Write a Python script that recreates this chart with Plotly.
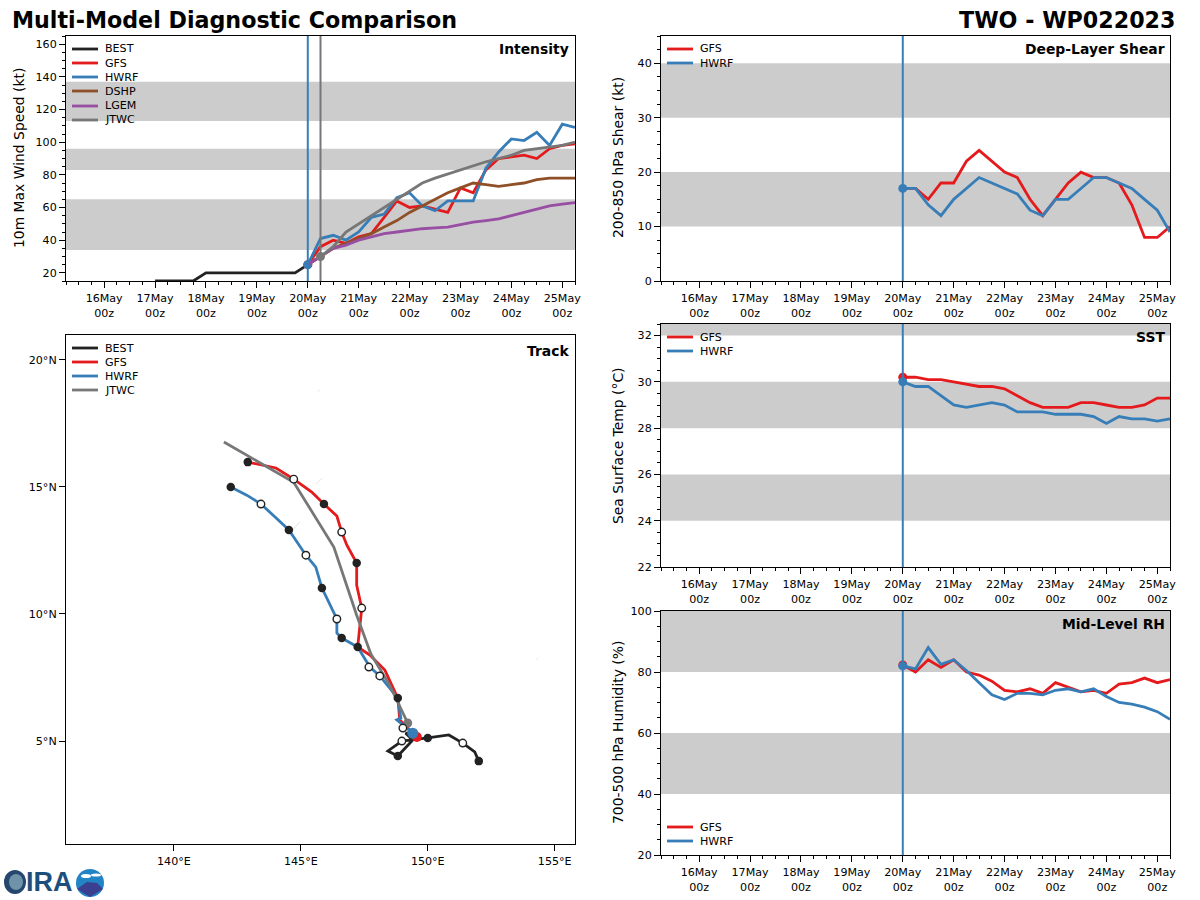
import plotly.graph_objects as go

FONT = "DejaVu Sans"
RED, BLUE, BROWN, PURPLE, GREY, BLACK = "#e41a1c", "#377eb8", "#8f4f27", "#984ea3", "#777777", "#222222"

times = ["2023-05-20 00:00", "2023-05-20 06:00", "2023-05-20 12:00", "2023-05-20 18:00",
         "2023-05-21 00:00", "2023-05-21 06:00", "2023-05-21 12:00", "2023-05-21 18:00",
         "2023-05-22 00:00", "2023-05-22 06:00", "2023-05-22 12:00", "2023-05-22 18:00",
         "2023-05-23 00:00", "2023-05-23 06:00", "2023-05-23 12:00", "2023-05-23 18:00",
         "2023-05-24 00:00", "2023-05-24 06:00", "2023-05-24 12:00", "2023-05-24 18:00",
         "2023-05-25 00:00", "2023-05-25 06:00"]
best_times = ["2023-05-17 00:00", "2023-05-17 06:00", "2023-05-17 12:00", "2023-05-17 18:00",
              "2023-05-18 00:00", "2023-05-18 06:00", "2023-05-18 12:00", "2023-05-18 18:00",
              "2023-05-19 00:00", "2023-05-19 06:00", "2023-05-19 12:00", "2023-05-19 18:00",
              "2023-05-20 00:00", "2023-05-20 06:00"]
best_vmax = [15, 15, 15, 15, 20, 20, 20, 20, 20, 20, 20, 20, 25, 30]
gfs_vmax = [25, 36, 40, 38, 42, 44, 54, 64, 60, 61, 59, 57, 72, 69, 83, 90, 91, 92, 90, 96, 98, 99]
hwrf_vmax = [25, 41, 43, 40, 45, 54, 56, 66, 69, 61, 58, 64, 64, 64, 84, 94, 102, 101, 106, 98, 111, 109]
dshp_vmax = [25, 30, 35, 38, 41, 44, 48, 52, 57, 61, 65, 69, 72, 75, 74, 73, 74, 75, 77, 78, 78, 78]
lgem_vmax = [25, 30, 35, 37, 40, 42, 44, 45, 46, 47, 47.5, 48, 49.5, 51, 52, 53, 55, 57, 59, 61, 62, 63]
jtwc_vmax = [30, 36, 45, 50, 55, 60, 65, 70, 75, 78, 80.5, 83, 85.5, 88, 90, 92, 95, 96, 97, 98, 100]

gfs_shear = [17, 17, 15, 18, 18, 22, 24, 22, 20, 19, 15, 12, 15, 18, 20, 19, 19, 18, 14, 8, 8, 10]
hwrf_shear = [17, 17, 14, 12, 15, 17, 19, 18, 17, 16, 13, 12, 15, 15, 17, 19, 19, 18, 17, 15, 13, 9]
gfs_sst = [30.2, 30.2, 30.1, 30.1, 30.0, 29.9, 29.8, 29.8, 29.7, 29.4, 29.1, 28.9, 28.9, 28.9, 29.1, 29.1, 29.0, 28.9, 28.9, 29.0, 29.3, 29.3]
hwrf_sst = [30.0, 29.8, 29.8, 29.4, 29.0, 28.9, 29.0, 29.1, 29.0, 28.7, 28.7, 28.7, 28.6, 28.6, 28.6, 28.5, 28.2, 28.5, 28.4, 28.4, 28.3, 28.4]
gfs_rh = [82.3, 80, 84, 81.5, 84, 80, 79, 77, 74, 73.5, 74.5, 73, 76.5, 75, 73.5, 74, 73, 76, 76.5, 78, 76.5, 77.5]
hwrf_rh = [82, 81, 88, 82.5, 84, 80.5, 76.5, 72.5, 71, 73, 73, 72.5, 74, 74.5, 73.5, 74.5, 72, 70, 69.5, 68.5, 67, 64.5]

best_lon = [152.01, 151.85, 151.38, 150.83, 150.0, 149.41, 148.98, 148.43, 148.82, 149.41, 149.13, 149.41]
best_lat = [4.21, 4.57, 4.92, 5.24, 5.12, 5.04, 5.0, 4.61, 4.41, 5.04, 5.31, 5.31]
gfs_lon = [142.91, 144.02, 144.72, 145.43, 145.91, 146.42, 146.61, 146.81, 147.20, 147.20, 147.40, 147.24, 147.72, 148.31, 148.82, 148.90, 149.57]
gfs_lat = [15.97, 15.74, 15.30, 14.79, 14.32, 13.85, 13.22, 12.71, 12.00, 11.13, 10.23, 8.70, 8.38, 7.79, 6.69, 5.83, 5.16]
hwrf_lon = [142.24, 142.87, 143.43, 143.90, 144.53, 145.20, 145.59, 145.83, 146.42, 146.42, 146.61, 147.24, 147.72, 148.11, 148.82, 148.94, 148.78, 149.41]
hwrf_lat = [14.99, 14.67, 14.32, 13.89, 13.30, 12.31, 11.84, 11.02, 9.80, 9.25, 9.05, 8.70, 7.91, 7.56, 6.69, 5.90, 5.83, 5.31]
jtwc_lon = [141.97, 144.72, 146.30, 147.20, 147.76, 148.50, 149.21]
jtwc_lat = [16.76, 15.18, 12.63, 9.95, 8.42, 7.20, 5.71]

filled_lon = [142.91, 145.91, 147.20, 147.24, 148.82, 142.24, 144.53, 145.83, 146.61, 152.01, 150.0, 148.82]
filled_lat = [15.97, 14.32, 12.00, 8.70, 6.69, 14.99, 13.30, 11.02, 9.05, 4.21, 5.12, 4.41]
open_lon = [144.72, 146.61, 147.40, 148.11, 149.02, 143.43, 145.20, 146.42, 147.68, 151.38, 148.98]
open_lat = [15.30, 13.22, 10.23, 7.56, 5.51, 14.32, 12.31, 9.80, 7.91, 4.92, 5.0]
island_lon = [144.62, 144.95, None, 145.6, 145.85, None, 145.68, 145.74, None, 154.28, 154.34]
island_lat = [13.25, 13.6, None, 15.1, 15.35, None, 18.75, 18.82, None, 8.2, 8.25]

intensity_bands = [(34, 65), (83, 96), (113, 137)]
shear_bands = [(10, 20), (30, 40)]
sst_bands = [(24, 26), (28, 30), (32, 33)]
rh_bands = [(40, 60), (80, 100)]

tick_days = ["2023-05-%02d" % d for d in range(16, 26)]
tick_text = ["%dMay<br>00z" % d for d in range(16, 26)]
lon_ticks, lon_text = [140, 145, 150, 155], ["140°E", "145°E", "150°E", "155°E"]
lat_ticks, lat_text = [5, 10, 15, 20], ["5°N", "10°N", "15°N", "20°N"]

W, H = 1200, 900
def dom_x(a, b): return [a / W, b / W]
def dom_y(a, b): return [1 - b / H, 1 - a / H]

fig = go.Figure()
axis_common = dict(showline=True, mirror=True, linecolor="black", linewidth=1.1, showgrid=False, zeroline=False,
                   ticks="outside", ticklen=6, tickcolor="black", tickfont=dict(family=FONT, size=11.1, color="black"))
time_range = ["2023-05-15 06:00", "2023-05-25 06:00"]

panels = [
    ("", "y", dom_x(66, 575), dom_y(36, 281), [15, 165], 20, 5, intensity_bands),
    ("2", "y2", dom_x(661, 1170), dom_y(36, 281), [0, 45], 10, 2.5, shear_bands),
    ("3", "y3", dom_x(661, 1170), dom_y(324, 567), [22, 32.5], 2, 0.5, sst_bands),
    ("4", "y4", dom_x(661, 1170), dom_y(611, 855), [20, 100], 20, 5, rh_bands),
]
for suf, yname, dx, dy, yr, dt, mdt, bands in panels:
    fig.layout["xaxis" + suf] = dict(domain=dx, range=time_range, type="date", anchor=yname, tickmode="array",
                                     tickvals=tick_days, ticktext=tick_text, ticklabelstandoff=1,
                                     minor=dict(dtick=6 * 3600000, tick0="2023-05-16", ticks="outside", ticklen=3, tickcolor="black"),
                                     **axis_common)
    fig.layout["yaxis" + suf] = dict(domain=dy, range=yr, anchor="x" + suf, dtick=dt,
                                     minor=dict(dtick=mdt, ticks="outside", ticklen=3, tickcolor="black"),
                                     **axis_common)
    for lo, hi in bands:
        fig.add_shape(type="rect", xref="x%s domain" % suf, yref=yname, x0=0, x1=1, y0=lo, y1=min(hi, yr[1]),
                      fillcolor="#cccccc", line_width=0, layer="below")
    fig.add_shape(type="line", xref="x" + suf, yref="y%s domain" % suf, x0=times[0], x1=times[0], y0=0, y1=1,
                  line=dict(color=BLUE, width=2), layer="above")
fig.add_shape(type="line", xref="x", yref="y domain", x0=times[1], x1=times[1], y0=0, y1=1,
              line=dict(color=GREY, width=2), layer="above")

fig.layout["xaxis5"] = dict(domain=dom_x(66, 575), range=[135.75, 155.8], anchor="y5", tickmode="array",
                            tickvals=lon_ticks, ticktext=lon_text, ticklabelstandoff=1, **axis_common)
fig.layout["yaxis5"] = dict(domain=dom_y(335, 844), range=[0.95, 20.97], anchor="x5", tickmode="array",
                            tickvals=lat_ticks, ticktext=lat_text, **axis_common)

def line(x, y, name, color, xa, ya, msize=0):
    fig.add_trace(go.Scatter(x=x, y=y, name=name, mode="lines", line=dict(color=color, width=2.8),
                             xaxis=xa, yaxis=ya, showlegend=False))
    if msize:
        fig.add_trace(go.Scatter(x=[x[0]], y=[y[0]], mode="markers", marker=dict(color=color, size=msize),
                                 xaxis=xa, yaxis=ya, showlegend=False))

fig.add_trace(go.Scatter(x=island_lon, y=island_lat, mode="lines", line=dict(color="#e2e2e2", width=1),
                         xaxis="x5", yaxis="y5", showlegend=False, connectgaps=False))

line(best_times, best_vmax, "BEST", BLACK, "x", "y")
line(times, gfs_vmax, "GFS", RED, "x", "y", 9)
line(times, hwrf_vmax, "HWRF", BLUE, "x", "y", 9)
line(times, dshp_vmax, "DSHP", BROWN, "x", "y")
line(times, lgem_vmax, "LGEM", PURPLE, "x", "y")
line(times[1:], jtwc_vmax, "JTWC", GREY, "x", "y", 9)

line(times, gfs_shear, "GFS", RED, "x2", "y2")
line(times, hwrf_shear, "HWRF", BLUE, "x2", "y2", 9)
line(times, gfs_sst, "GFS", RED, "x3", "y3", 9)
line(times, hwrf_sst, "HWRF", BLUE, "x3", "y3", 9)
line(times, gfs_rh, "GFS", RED, "x4", "y4", 9)
line(times, hwrf_rh, "HWRF", BLUE, "x4", "y4", 9)

line(best_lon, best_lat, "BEST", BLACK, "x5", "y5")
line(gfs_lon[::-1], gfs_lat[::-1], "GFS", RED, "x5", "y5", 10)
line(hwrf_lon[::-1], hwrf_lat[::-1], "HWRF", BLUE, "x5", "y5", 11)
line(jtwc_lon[::-1], jtwc_lat[::-1], "JTWC", GREY, "x5", "y5", 9)
fig.add_trace(go.Scatter(x=filled_lon, y=filled_lat, mode="markers", xaxis="x5", yaxis="y5", showlegend=False,
                         marker=dict(color=BLACK, size=8.5)))
fig.add_trace(go.Scatter(x=open_lon, y=open_lat, mode="markers", xaxis="x5", yaxis="y5", showlegend=False,
                         marker=dict(color="white", size=7.5, line=dict(color=BLACK, width=1.4))))

fig.update_layout(width=W, height=H, margin=dict(l=0, r=0, t=0, b=0, autoexpand=False), paper_bgcolor="white",
                  plot_bgcolor="white", showlegend=False)

def label(text, x, y, size, xanchor="right", bold=True, family=FONT, color="black", angle=0):
    fig.add_annotation(text="<b>%s</b>" % text if bold else text, xref="paper", yref="paper", x=x / W, y=1 - y / H,
                       xanchor=xanchor, yanchor="middle", showarrow=False, borderpad=0, borderwidth=0, textangle=angle,
                       font=dict(family=family, size=size, color=color))

def legend_block(x, rows):
    for y, name, color in rows:
        fig.add_shape(type="line", xref="paper", yref="paper", x0=x / W, x1=(x + 26) / W, y0=1 - y / H, y1=1 - y / H,
                      line=dict(color=color, width=2.8), layer="above")
        label(name, x + 33, y, 11.1, "left", False)

legend_block(72, [(49, "BEST", BLACK), (63, "GFS", RED), (77, "HWRF", BLUE), (91, "DSHP", BROWN), (106, "LGEM", PURPLE), (120, "JTWC", GREY)])
legend_block(667, [(49, "GFS", RED), (63, "HWRF", BLUE)])
legend_block(667, [(337, "GFS", RED), (351, "HWRF", BLUE)])
legend_block(667, [(827, "GFS", RED), (841, "HWRF", BLUE)])
legend_block(72, [(348, "BEST", BLACK), (362, "GFS", RED), (376, "HWRF", BLUE), (390, "JTWC", GREY)])

label("Multi-Model Diagnostic Comparison", 12, 20, 22.2, "left")
label("TWO - WP022023", 1176, 20, 22.2)
label("Intensity", 569, 49, 13.9)
label("Track", 569, 351, 13.9)
label("Deep-Layer Shear", 1165, 49, 13.9)
label("SST", 1165, 337, 13.9)
label("Mid-Level RH", 1165, 624, 13.9)

label("10m Max Wind Speed (kt)", 19, 158, 13.9, "center", False, angle=-90)
label("200-850 hPa Shear (kt)", 618, 158, 13.9, "center", False, angle=-90)
label("Sea Surface Temp (°C)", 618, 446, 13.9, "center", False, angle=-90)
label("700-500 hPa Humidity (%)", 618, 733, 13.9, "center", False, angle=-90)

# CIRA logo, drawn as plain shapes and text
def circle(cx, cy, rx, ry, color):
    fig.add_shape(type="circle", xref="paper", yref="paper", x0=(cx - rx) / W, x1=(cx + rx) / W,
                  y0=1 - (cy + ry) / H, y1=1 - (cy - ry) / H, fillcolor=color, line_width=0, layer="above")
circle(15, 882, 11, 12, "#24466f")
circle(16, 882, 7, 8, "#6f93a8")
circle(90, 883, 14, 14, "#2283c5")
circle(86, 876, 5, 2, "white")
circle(96, 875, 5, 1.5, "white")
fig.add_shape(type="path", xref="paper", yref="paper", layer="above", line_width=0, fillcolor="#3b3f8f",
              path="M %f %f L %f %f L %f %f L %f %f L %f %f Z" % (77 / W, 1 - 889 / H, 87 / W, 1 - 882 / H, 97 / W, 1 - 883 / H,
                                                          103 / W, 1 - 889 / H, 90 / W, 1 - 897 / H))
label("IRA", 26, 882, 27, "left", True, "Liberation Sans", "#1d4f7c")

fig.write_html("out.html", config=dict(displayModeBar=False), post_script="document.body.style.margin='0';")
